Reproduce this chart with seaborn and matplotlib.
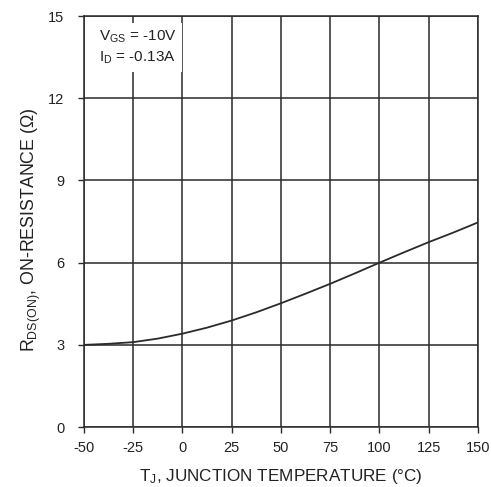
import matplotlib
matplotlib.use("Agg")
import matplotlib.pyplot as plt
import seaborn as sns
import pandas as pd

# Data
temperature = [-50, -37.5, -25, -12.5, 0, 12.5, 25, 37.5, 50, 62.5, 75, 87.5, 100, 112.5, 125, 137.5, 150]
resistance = [3.0, 3.04, 3.1, 3.23, 3.41, 3.63, 3.89, 4.19, 4.52, 4.87, 5.23, 5.61, 6.0, 6.38, 6.75, 7.1, 7.47]
x_ticks = [-50, -25, 0, 25, 50, 75, 100, 125, 150]
y_ticks = [0, 3, 6, 9, 12, 15]

sns.set_theme(style="white")
plt.rcParams['font.family'] = ['Liberation Sans', 'DejaVu Sans']
plt.rcParams['mathtext.fontset'] = 'custom'
plt.rcParams['mathtext.rm'] = 'Liberation Sans'
plt.rcParams['axes.unicode_minus'] = False

df = pd.DataFrame({"T": temperature, "R": resistance})

fig = plt.figure(figsize=(4.91, 4.87), dpi=100)
ax = fig.add_axes([0.171, 0.123, 0.8025, 0.844])

line_color = "#2a2a2a"
sns.lineplot(data=df, x="T", y="R", ax=ax, color=line_color, linewidth=1.3)

ax.set_xlim(-50, 150)
ax.set_ylim(0, 15)
ax.set_xticks(x_ticks)
ax.set_yticks(y_ticks)
ax.grid(True, color=line_color, linewidth=1.1)
for s in ax.spines.values():
    s.set_color(line_color)
    s.set_linewidth(1.1)
ax.tick_params(axis="both", direction="out", length=4, width=1.0, color=line_color,
               labelsize=10.5, labelcolor="#222222", bottom=True, left=True)
ax.tick_params(axis="x", pad=6)
ax.tick_params(axis="y", pad=10)

ax.set_xlabel(r"T$\mathregular{_J}$, JUNCTION TEMPERATURE (°C)", fontsize=12.3, color="#222222", labelpad=9)
ax.set_ylabel(r"R$\mathregular{_{DS(ON)}}$, ON-RESISTANCE (Ω)", fontsize=12.8, color="#222222")
ax.yaxis.set_label_coords(-0.105, 0.48)

ax.text(-42.5, 13.85, "V$\\mathregular{_{GS}}$ = -10V\nI$\\mathregular{_D}$ = -0.13A", fontsize=11,
        color="#222222", va="center", ha="left", linespacing=1.4,
        bbox=dict(facecolor="white", edgecolor="none", pad=4), zorder=5)

fig.savefig("out.png", dpi=100)
